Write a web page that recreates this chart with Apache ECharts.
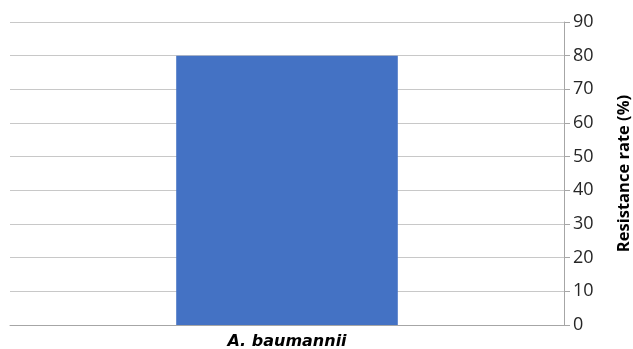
<!DOCTYPE html>
<html>
<head>
<meta charset="utf-8">
<script src="https://cdn.jsdelivr.net/npm/echarts@6/dist/echarts.min.js"></script>
<style>
  html, body { margin: 0; padding: 0; background: #ffffff; }
  #chart { width: 633px; height: 349px; }
</style>
</head>
<body>
<div id="chart"></div>
<script>
// Resistance rate by organism
const categories = ['A. baumannii'];
const resistanceRate = [80];
const yMin = 0, yMax = 90, yStep = 10;

const chart = echarts.init(document.getElementById('chart'), null, { renderer: 'canvas' });
chart.setOption({
  animation: false,
  backgroundColor: '#ffffff',
  grid: { left: 10, right: 69, top: 22, bottom: 24, containLabel: false, outerBoundsMode: 'none' },
  xAxis: {
    type: 'category',
    data: categories,
    axisLine: { show: true, lineStyle: { color: '#a6a6a6', width: 1 } },
    axisTick: { show: false },
    axisLabel: {
      color: '#000000',
      fontFamily: 'DejaVu Sans',
      fontWeight: 'bold',
      fontStyle: 'italic',
      fontSize: 16,
      margin: 9
    }
  },
  yAxis: {
    type: 'value',
    position: 'right',
    min: yMin,
    max: yMax,
    interval: yStep,
    name: 'Resistance rate (%)',
    nameLocation: 'middle',
    nameRotate: 90,
    nameGap: 52,
    nameTextStyle: {
      color: '#000000',
      fontFamily: 'Open Sans',
      fontWeight: 'bold',
      fontSize: 16.5
    },
    axisLine: { show: true, lineStyle: { color: '#a6a6a6', width: 1 } },
    axisTick: { show: true, length: 6, lineStyle: { color: '#a6a6a6' } },
    axisLabel: {
      color: '#262626',
      fontFamily: 'Open Sans',
      fontSize: 18,
      margin: 9
    },
    splitLine: { show: true, lineStyle: { color: '#c8c8c8', width: 1 } }
  },
  series: [{
    type: 'bar',
    data: resistanceRate,
    barWidth: '40%',
    itemStyle: { color: '#4472c4' }
  }]
});
</script>
</body>
</html>
